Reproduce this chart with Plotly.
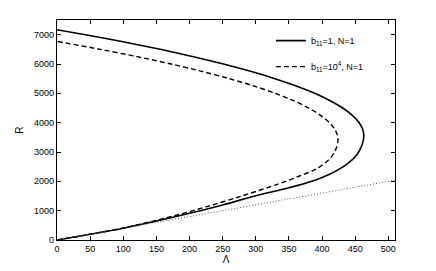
import plotly.graph_objects as go

# Solid curve: b11=1, N=1 (lower branch then upper branch)
lam_b1 = [0, 50, 100, 150, 200, 250, 300, 350, 387, 412, 437, 452, 460, 463,
          460.8, 455.9, 445.7, 431.1, 412.2, 388.8, 361, 328.8, 292.1, 251.1, 205.7, 155.8, 101.5, 42.8, 0]
r_b1 = [0, 195, 400, 650, 910, 1195, 1510, 1780, 2020, 2250, 2580, 2890, 3220, 3550,
        3800, 4000, 4250, 4500, 4750, 5000, 5250, 5500, 5750, 6000, 6250, 6500, 6750, 7000, 7170]

# Dashed curve: b11=10^4, N=1
lam_b4 = [0, 50, 100, 150, 176, 226, 276, 330, 367, 392, 412, 420, 424,
          422.7, 418.4, 411.1, 397.7, 379.6, 356.8, 329.3, 297.1, 260.1, 218.5, 172.1, 121, 65.2, 0]
r_b4 = [0, 195, 410, 670, 819, 1137, 1480, 1880, 2190, 2430, 2780, 3050, 3400,
        3600, 3800, 4000, 4250, 4500, 4750, 5000, 5250, 5500, 5750, 6000, 6250, 6500, 6770]

# Dotted reference line
lam_ref = [0, 510]
r_ref = [0, 2040]

x_ticks = [0, 50, 100, 150, 200, 250, 300, 350, 400, 450, 500]
y_ticks = [0, 1000, 2000, 3000, 4000, 5000, 6000, 7000]

FONT = "Liberation Sans, Arial"

fig = go.Figure()
fig.add_trace(go.Scatter(x=lam_b1, y=r_b1, mode="lines", name="b<sub>11</sub>=1, N=1",
                         line=dict(color="black", width=1.6, shape="spline", smoothing=0.9),
                         legendgroup="a"))
fig.add_trace(go.Scatter(x=lam_b4, y=r_b4, mode="lines", name="b<sub>11</sub>=10<sup>4</sup>, N=1",
                         line=dict(color="black", width=1.4, dash="5px,3px", shape="spline", smoothing=0.9),
                         legendgroup="b"))
fig.add_trace(go.Scatter(x=lam_ref, y=r_ref, mode="lines", showlegend=False,
                         line=dict(color="#555555", width=1, dash="1px,2px")))

axis_common = dict(showgrid=False, zeroline=False, showline=True, linecolor="black",
                   linewidth=1.3, mirror="ticks", ticks="inside", ticklen=4,
                   tickcolor="black", tickwidth=1, automargin=False,
                   tickfont=dict(family=FONT, size=9, color="black"))

fig.update_xaxes(range=[0, 510], tickvals=x_ticks,
                 title=dict(text="Λ", font=dict(family=FONT, size=10, color="black"),
                            standoff=0),
                 **axis_common)
fig.update_yaxes(range=[0, 7500], tickvals=y_ticks,
                 title=dict(text="R", font=dict(family=FONT, size=10, color="black"),
                            standoff=8),
                 **axis_common)

fig.update_layout(
    width=436, height=271,
    margin=dict(l=57, r=41, t=20, b=31),
    paper_bgcolor="white", plot_bgcolor="white",
    legend=dict(x=0.633, y=0.972, xanchor="left", yanchor="top",
                bgcolor="rgba(0,0,0,0)", borderwidth=0,
                font=dict(family=FONT, size=9, color="black"),
                itemwidth=30, tracegroupgap=7, traceorder="grouped"),
)

# remove the default page margin so the figure sits at the window's top-left corner
fig.write_html("out.html", config={"displayModeBar": False},
               post_script="document.body.style.margin='0';document.body.style.overflow='hidden';")
